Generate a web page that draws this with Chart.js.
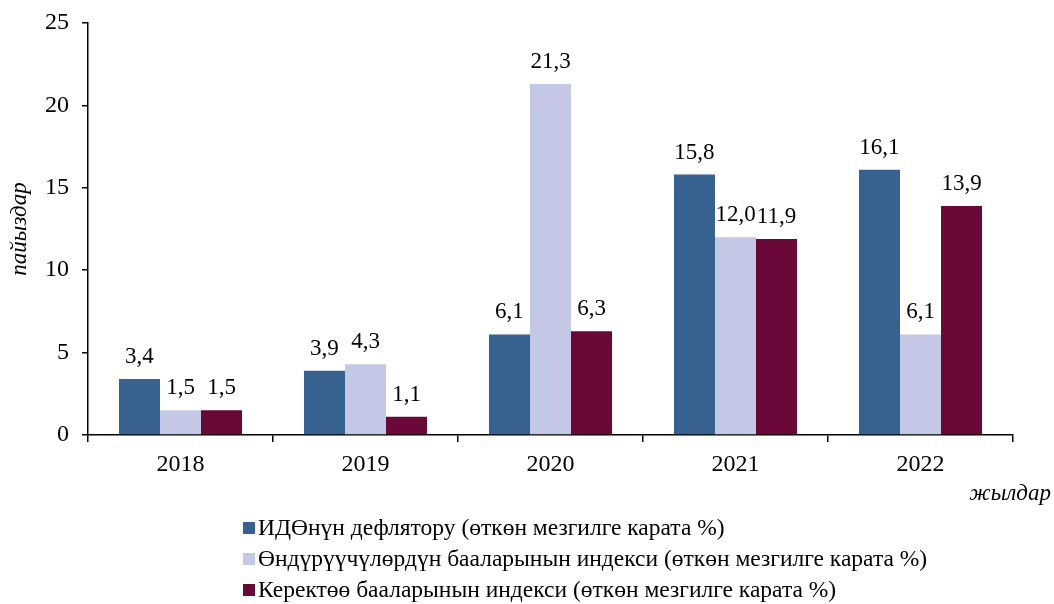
<!DOCTYPE html>
<html>
<head>
<meta charset="utf-8">
<script src="https://cdn.jsdelivr.net/npm/chart.js@4"></script>
<style>
  html, body { margin: 0; padding: 0; background: #fff; }
  #wrap { width: 1054px; height: 604px; }
</style>
</head>
<body>
<div id="wrap"><canvas id="chart" width="1054" height="604"></canvas></div>
<script>
const years = ['2018', '2019', '2020', '2021', '2022'];
const gdpDeflator = [3.4, 3.9, 6.1, 15.8, 16.1];
const producerPrices = [1.5, 4.3, 21.3, 12.0, 6.1];
const consumerPrices = [1.5, 1.1, 6.3, 11.9, 13.9];
const seriesNames = [
    'ИДӨнүн дефлятору (өткөн мезгилге карата %)',
    'Өндүрүүчүлөрдүн бааларынын индекси (өткөн мезгилге карата %)',
    'Керектөө бааларынын индекси (өткөн мезгилге карата %)'
];
const yTicks = [0, 5, 10, 15, 20, 25];

const FONT = '"Liberation Serif", "Times New Roman", serif';
const fmt = v => v.toFixed(1).replace('.', ',');

// value labels above each bar
const barLabels = {
    id: 'barLabels',
    afterDatasetsDraw(chart) {
        const ctx = chart.ctx;
        ctx.save();
        ctx.font = '23px ' + FONT;
        ctx.fillStyle = '#000';
        ctx.textAlign = 'center';
        ctx.textBaseline = 'alphabetic';
        chart.data.datasets.forEach((ds, i) => {
            chart.getDatasetMeta(i).data.forEach((bar, j) => {
                ctx.fillText(fmt(ds.data[j]), bar.x, bar.y - 16);
            });
        });
        ctx.restore();
    }
};

// axis captions and the stacked legend underneath
const extras = {
    id: 'extras',
    afterDraw(chart) {
        const ctx = chart.ctx;
        ctx.save();
        ctx.fillStyle = '#000';
        ctx.font = 'italic 23px ' + FONT;
        ctx.textAlign = 'center';
        ctx.textBaseline = 'middle';
        ctx.translate(20, 229);
        ctx.rotate(-Math.PI / 2);
        ctx.fillText('пайыздар', 0, 0);
        ctx.restore();

        ctx.save();
        ctx.fillStyle = '#000';
        ctx.font = 'italic 23px ' + FONT;
        ctx.textAlign = 'right';
        ctx.textBaseline = 'middle';
        ctx.fillText('жылдар', 1051, 494);
        ctx.restore();

        ctx.save();
        ctx.font = '23.5px ' + FONT;
        ctx.textBaseline = 'middle';
        ctx.textAlign = 'left';
        const rowsY = [528, 559, 590];
        chart.data.datasets.forEach((ds, i) => {
            ctx.fillStyle = ds.backgroundColor;
            ctx.fillRect(243, rowsY[i] - 6, 12, 12);
            ctx.fillStyle = '#000';
            ctx.fillText(ds.label, 258, rowsY[i] + 1);
        });
        ctx.restore();
    }
};

new Chart(document.getElementById('chart'), {
    type: 'bar',
    data: {
        labels: years,
        datasets: [
            { label: seriesNames[0], data: gdpDeflator, backgroundColor: '#37618F' },
            { label: seriesNames[1], data: producerPrices, backgroundColor: '#C4C7E6' },
            { label: seriesNames[2], data: consumerPrices, backgroundColor: '#6A0838' }
        ]
    },
    options: {
        responsive: false,
        animation: false,
        layout: { padding: { top: 23, right: 41, left: 0, bottom: 0 } },
        datasets: {
            bar: { categoryPercentage: 0.665, barPercentage: 1.0, borderWidth: 0 }
        },
        plugins: {
            legend: { display: false },
            tooltip: { enabled: false }
        },
        scales: {
            x: {
                afterFit: s => { s.height = 169; s.paddingLeft = 0; s.paddingRight = 0; },
                border: { color: '#000', width: 1.5 },
                grid: { offset: true, drawOnChartArea: false, color: '#000', lineWidth: 1.5, tickLength: 7 },
                ticks: { color: '#000', font: { family: FONT, size: 24 }, padding: 8 }
            },
            y: {
                min: 0,
                max: 25,
                afterFit: s => { s.width = 88; s.paddingTop = 0; s.paddingBottom = 0; },
                afterBuildTicks: s => { s.ticks = yTicks.map(v => ({ value: v })); },
                border: { color: '#000', width: 1.5 },
                grid: { drawOnChartArea: false, color: '#000', lineWidth: 1.5, tickLength: 6 },
                ticks: { color: '#000', font: { family: FONT, size: 24 }, padding: 13 }
            }
        }
    },
    plugins: [barLabels, extras]
});
</script>
</body>
</html>
